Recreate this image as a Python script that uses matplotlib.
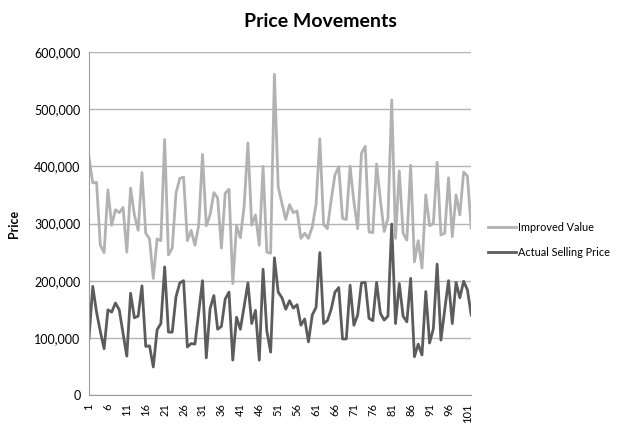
import matplotlib.pyplot as plt
from matplotlib.ticker import FuncFormatter, MultipleLocator

plt.rcParams['font.family'] = ['Lato', 'DejaVu Sans']

# values in thousands
improved_value = [416, 371, 372, 262, 249, 359, 297, 324, 319, 328,
                  250, 362, 315, 288, 389, 283, 273, 204, 273, 270,
                  447, 245, 257, 353, 379, 381, 270, 288, 262, 297,
                  421, 296, 315, 354, 345, 257, 353, 360, 195, 296,
                  275, 330, 441, 297, 315, 262, 400, 250, 248, 561,
                  364, 335, 307, 333, 319, 322, 274, 283, 274, 294,
                  333, 448, 298, 291, 341, 385, 399, 309, 307, 400,
                  338, 291, 423, 435, 285, 284, 404, 341, 286, 309,
                  516, 274, 392, 283, 271, 402, 233, 270, 222, 350,
                  296, 300, 407, 280, 283, 380, 277, 350, 315, 390,
                  383, 292]
selling_price = [99, 190, 145, 111, 81, 149, 145, 161, 149, 108,
                 68, 178, 135, 138, 191, 85, 86, 49, 114, 125,
                 224, 110, 110, 172, 196, 200, 84, 90, 89, 145,
                 200, 65, 151, 174, 115, 120, 168, 180, 61, 136,
                 115, 155, 196, 125, 148, 61, 220, 112, 75, 240,
                 180, 170, 150, 165, 152, 158, 122, 133, 93, 140,
                 153, 249, 125, 130, 150, 180, 188, 98, 98, 192,
                 122, 140, 196, 197, 134, 130, 197, 143, 131, 138,
                 299, 125, 195, 138, 128, 204, 67, 89, 70, 181,
                 91, 116, 229, 96, 149, 200, 125, 197, 170, 199,
                 184, 140]
labels = ["Improved Value", "Actual Selling Price"]

x = list(range(1, len(improved_value) + 1))

fig = plt.figure(figsize=(6.2, 4.28), dpi=100)
ax = fig.add_axes([0.1435, 0.0771, 0.6165, 0.8014])

ax.plot(x, [v * 1000 for v in improved_value], color='#b2b2b2', lw=2.0,
        label=labels[0])
ax.plot(x, [v * 1000 for v in selling_price], color='#5c5c5c', lw=2.0,
        label=labels[1])

ax.set_xlim(1, len(x))
ax.set_ylim(0, 600000)
ax.yaxis.set_major_locator(MultipleLocator(100000))
ax.yaxis.set_major_formatter(FuncFormatter(lambda v, p: f"{int(v):,}"))
ax.set_xticks(list(range(1, len(x) + 1, 5)))
ax.tick_params(axis='x', labelrotation=90, labelsize=8, length=0, pad=6)
ax.tick_params(axis='y', labelsize=9, length=0, pad=6)

ax.grid(axis='y', color='#b4b4b4', lw=1)
ax.set_axisbelow(True)
for s in ['top', 'right']:
    ax.spines[s].set_visible(False)
for s in ['left', 'bottom']:
    ax.spines[s].set_color('#9a9a9a')

ax.set_ylabel("Price", fontsize=9, fontweight='bold', labelpad=10)
fig.text(0.517, 0.95, "Price Movements", ha='center', va='center',
         fontsize=14, fontweight='bold')

fig.legend(loc='center left', bbox_to_anchor=(0.787, 0.44), frameon=False,
           fontsize=7.8, handlelength=2.6, handletextpad=0.2,
           labelspacing=1.3, borderpad=0, borderaxespad=0)

fig.savefig("out.png", dpi=100)
